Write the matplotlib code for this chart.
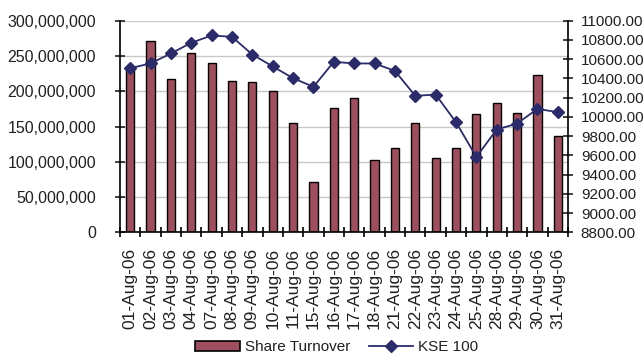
import numpy as np
import matplotlib
matplotlib.use("Agg")
import matplotlib.pyplot as plt
from matplotlib.ticker import FuncFormatter, FixedLocator
from matplotlib.lines import Line2D
from matplotlib.patches import Patch

plt.rcParams['font.family'] = ['Liberation Sans', 'DejaVu Sans']

dates = ["01-Aug-06", "02-Aug-06", "03-Aug-06", "04-Aug-06", "07-Aug-06",
         "08-Aug-06", "09-Aug-06", "10-Aug-06", "11-Aug-06", "15-Aug-06",
         "16-Aug-06", "17-Aug-06", "18-Aug-06", "21-Aug-06", "22-Aug-06",
         "23-Aug-06", "24-Aug-06", "25-Aug-06", "28-Aug-06", "29-Aug-06",
         "30-Aug-06", "31-Aug-06"]

# share turnover (number of shares)
turnover = [232e6, 271e6, 217e6, 255e6, 240e6, 215e6, 213e6, 201e6, 155e6, 71e6,
            176e6, 190e6, 103e6, 120e6, 155e6, 105e6, 120e6, 168e6, 184e6, 169e6,
            223e6, 136e6]

# KSE 100 index close
kse100 = [10507, 10556, 10660, 10771, 10847, 10833, 10649, 10525, 10403, 10313,
          10573, 10556, 10556, 10479, 10219, 10233, 9945, 9584, 9869, 9931,
          10084, 10049]

bar_color = "#9E4E5C"
line_color = "#2B2B6B"
text_color = "#231F20"

fig = plt.figure(figsize=(6.44, 3.58), dpi=100)
ax = fig.add_axes([0.1863, 0.351, 0.6957, 0.591])
ax2 = ax.twinx()

x = np.arange(len(dates))
ax.bar(x, turnover, width=0.4, color=bar_color, edgecolor="black", linewidth=1.0, zorder=2)
ax.set_xlim(-0.5, len(dates) - 0.5)
ax.set_ylim(0, 300e6)
ax.set_yticks(np.arange(0, 300e6 + 1, 50e6))
ax.yaxis.set_major_formatter(FuncFormatter(lambda v, p: f"{int(v):,}"))
ax.grid(axis="y", color="#C8C8C8", linewidth=1.0, zorder=0)
ax.set_axisbelow(True)

ax.set_xticks(x)
ax.set_xticklabels(dates, rotation=90)
ax.xaxis.set_minor_locator(FixedLocator(np.arange(-0.5, len(dates), 1.0)))
ax.tick_params(axis="x", which="major", length=0, pad=11, labelsize=12.5, colors=text_color)
ax.tick_params(axis="x", which="minor", length=6.5, direction="inout", width=1.2)
ax.tick_params(axis="y", length=6.5, direction="inout", width=1.2, pad=14,
               labelsize=11.5, colors=text_color)

ax2.plot(x, kse100, color=line_color, marker="D", markersize=6, linewidth=1.3, zorder=3)
ax2.set_ylim(8800, 11000)
ax2.set_yticks(np.arange(8800, 11001, 200))
ax2.yaxis.set_major_formatter(FuncFormatter(lambda v, p: f"{v:.2f}"))
ax2.tick_params(axis="y", length=6.5, direction="inout", width=1.2, pad=6,
                labelsize=11, colors=text_color)

for a in (ax, ax2):
    a.spines["top"].set_visible(False)
    for s in ("left", "right", "bottom"):
        a.spines[s].set_linewidth(1.2)
        a.spines[s].set_color("black")
ax.spines["right"].set_visible(False)
ax2.spines["left"].set_visible(False)
ax2.spines["bottom"].set_visible(False)

handles = [Patch(facecolor=bar_color, edgecolor="black", linewidth=1.2),
           Line2D([], [], color=line_color, marker="D", markersize=6, linewidth=1.3)]
fig.legend(handles, ["Share Turnover", "KSE 100"], loc="center",
           bbox_to_anchor=(0.523, 0.03), ncol=2, frameon=False, fontsize=11,
           handlelength=2.9, handleheight=0.65, columnspacing=1.2, handletextpad=0.35,
           labelcolor=text_color)

fig.savefig("out.png", dpi=100)
